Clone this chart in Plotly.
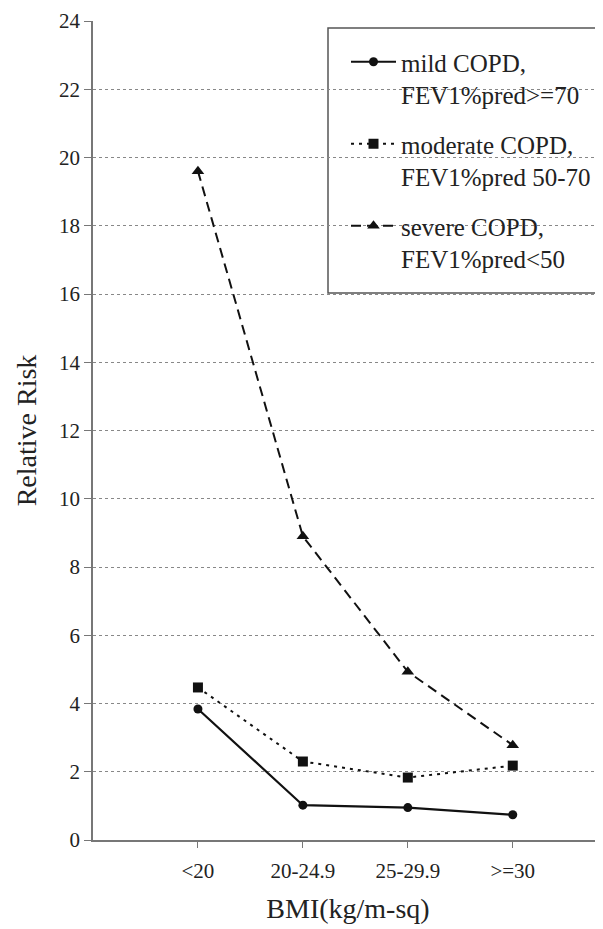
import plotly.graph_objects as go

categories = ["<20", "20-24.9", "25-29.9", ">=30"]
mild = [3.84, 1.02, 0.95, 0.74]
moderate = [4.47, 2.30, 1.83, 2.18]
severe = [19.6, 8.9, 4.93, 2.78]
names = ["mild COPD,<br>FEV1%pred>=70",
         "moderate COPD,<br>FEV1%pred 50-70",
         "severe COPD,<br>FEV1%pred<50"]
y_ticks = list(range(0, 25, 2))

# page has an 8px body margin; the figure is sized to fill the rest
OFF = 8
W, H = 603 - OFF, 929 - OFF
L, R, T = 93 - OFF, 0, 21 - OFF
B = H - T - 819
pw, ph = W - L - R, H - T - B

def px_x(p):
    return (p - OFF - L) / pw

def px_y(p):
    return (H - B - (p - OFF)) / ph

FONT = "Liberation Serif"
INK = "#222222"

fig = go.Figure()
fig.add_trace(go.Scatter(x=categories, y=mild, name=names[0], mode="lines+markers",
                         line=dict(color="#111111", width=2.2),
                         marker=dict(symbol="circle", size=9, color="#111111"),
                         legendgroup="a"))
fig.add_trace(go.Scatter(x=categories, y=moderate, name=names[1], mode="lines+markers",
                         line=dict(color="#111111", width=2, dash="3px,5px"),
                         marker=dict(symbol="square", size=10, color="#111111"),
                         legendgroup="b"))
fig.add_trace(go.Scatter(x=categories, y=severe, name=names[2], mode="lines+markers",
                         line=dict(color="#111111", width=2, dash="10px,6px"),
                         marker=dict(symbol="triangle-up", size=11, color="#111111"),
                         legendgroup="c"))

# legend frame
fig.add_shape(type="rect", xref="paper", yref="paper",
              x0=px_x(328), x1=px_x(610), y0=px_y(293), y1=px_y(28),
              line=dict(color="#555555", width=1.5), fillcolor="white", layer="below")

fig.update_layout(
    width=W, height=H,
    margin=dict(l=L, r=R, t=T, b=B),
    paper_bgcolor="white", plot_bgcolor="white",
    font=dict(family=FONT, color=INK, size=21),
    showlegend=True,
    legend=dict(x=px_x(346), y=px_y(39), xanchor="left", yanchor="top",
                bgcolor="rgba(0,0,0,0)", borderwidth=0,
                font=dict(family=FONT, size=25, color=INK),
                itemwidth=45, valign="top", tracegroupgap=14),
    xaxis=dict(type="category", range=[-1, 3.86], showgrid=False,
               showline=True, linecolor="#777777", linewidth=1.5,
               ticks="outside", ticklen=6, tickcolor="#777777",
               ticklabelstandoff=5,
               tickfont=dict(family=FONT, size=21, color=INK),
               title=dict(text="BMI(kg/m-sq)", font=dict(family=FONT, size=28, color=INK),
                          standoff=16),
               zeroline=False, automargin=False),
    yaxis=dict(range=[0, 24], tickvals=y_ticks, showgrid=True,
               gridcolor="#888888", griddash="dot", gridwidth=1,
               showline=True, linecolor="#777777", linewidth=1.5,
               ticks="outside", ticklen=7, tickcolor="#777777",
               tickfont=dict(family=FONT, size=21, color=INK),
               title=dict(text="Relative Risk", font=dict(family=FONT, size=28, color=INK),
                          standoff=14),
               zeroline=False, automargin=False),
)

fig.write_html("out.html")
